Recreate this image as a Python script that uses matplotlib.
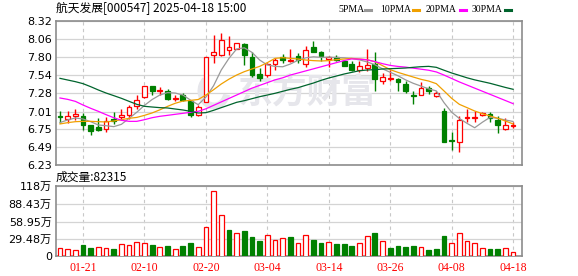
import numpy as np
import matplotlib
matplotlib.use("Agg")
import matplotlib.pyplot as plt
from matplotlib.lines import Line2D
from matplotlib.patches import Arc

W, H = 578, 276
CJK = ["Noto Sans CJK SC", "DejaVu Sans"]
C_UP, C_DN = "#FF0000", "#008000"
C_MA = {"5PMA": "#999999", "10PMA": "#F0A000", "20PMA": "#FF00FF", "30PMA": "#00642D"}
C_GRID, C_SPINE = "#d4d4d4", "#8c8c8c"

DATES = ["01-16", "01-17", "01-20", "01-21", "01-22", "01-23", "01-24", "01-27",
         "02-05", "02-06", "02-07", "02-10", "02-11", "02-12", "02-13", "02-14",
         "02-17", "02-18", "02-19", "02-20", "02-21", "02-24", "02-25", "02-26",
         "02-27", "02-28", "03-03", "03-04", "03-05", "03-06", "03-07", "03-10",
         "03-11", "03-12", "03-13", "03-14", "03-17", "03-18", "03-19", "03-20",
         "03-21", "03-24", "03-25", "03-26", "03-27", "03-28", "03-31", "04-01",
         "04-02", "04-03", "04-07", "04-08", "04-09", "04-10", "04-11", "04-14",
         "04-15", "04-16", "04-17", "04-18"]
OPEN = [6.945, 6.902, 6.946, 6.941, 6.810, 6.786, 6.757, 6.907, 6.927, 6.956,
        7.086, 7.217, 7.377, 7.304, 7.304, 7.198, 7.246, 7.159, 6.956, 7.144,
        7.827, 7.827, 7.909, 7.923, 7.991, 7.797, 7.556, 7.536, 7.701, 7.797,
        7.739, 7.812, 7.706, 7.947, 7.875, 7.773, 7.802, 7.749, 7.706, 7.609,
        7.643, 7.701, 7.449, 7.483, 7.488, 7.415, 7.256, 7.256, 7.352, 7.241,
        7.014, 6.598, 6.569, 6.912, 6.922, 6.956, 6.975, 6.883, 6.762, 6.796]
HIGH = [7.014, 7.014, 7.048, 6.990, 6.815, 6.917, 6.931, 6.999, 7.052, 7.101,
        7.246, 7.386, 7.386, 7.362, 7.338, 7.246, 7.275, 7.183, 7.101, 7.797,
        8.117, 8.151, 8.102, 8.006, 8.006, 7.880, 7.643, 7.715, 7.788, 7.846,
        7.918, 7.860, 7.967, 8.030, 7.894, 7.812, 7.836, 7.764, 7.739, 7.739,
        7.918, 7.875, 7.570, 7.609, 7.498, 7.449, 7.314, 7.435, 7.377, 7.304,
        7.062, 6.709, 6.941, 7.052, 7.023, 7.004, 6.999, 6.941, 6.917, 6.859]
LOW = [6.844, 6.844, 6.893, 6.748, 6.675, 6.733, 6.714, 6.830, 6.893, 6.902,
       7.052, 7.207, 7.256, 7.246, 7.183, 7.159, 7.169, 6.927, 6.941, 7.144,
       7.715, 7.812, 7.827, 7.923, 7.691, 7.507, 7.449, 7.512, 7.619, 7.715,
       7.725, 7.715, 7.652, 7.870, 7.749, 7.652, 7.739, 7.667, 7.594, 7.580,
       7.594, 7.314, 7.415, 7.449, 7.314, 7.280, 7.120, 7.256, 7.270, 7.227,
       6.564, 6.457, 6.419, 6.854, 6.854, 6.951, 6.854, 6.699, 6.748, 6.772]
CLOSE = [6.936, 6.941, 6.975, 6.820, 6.723, 6.748, 6.878, 6.870, 6.956, 7.072,
         7.173, 7.377, 7.314, 7.319, 7.193, 7.212, 7.183, 6.965, 7.072, 7.797,
         7.875, 8.044, 7.943, 8.006, 7.836, 7.546, 7.498, 7.706, 7.754, 7.754,
         7.754, 7.754, 7.899, 7.870, 7.812, 7.797, 7.764, 7.677, 7.619, 7.667,
         7.691, 7.483, 7.512, 7.498, 7.435, 7.314, 7.231, 7.352, 7.304, 7.280,
         6.564, 6.578, 6.883, 6.927, 6.936, 6.990, 6.917, 6.820, 6.810, 6.810]
MA5 = [6.850, 6.888, 6.917, 6.902, 6.863, 6.815, 6.805, 6.791, 6.825, 6.912,
       7.000, 7.100, 7.185, 7.250, 7.285, 7.279, 7.250, 7.176, 7.110, 7.220,
       7.385, 7.613, 7.782, 7.918, 7.935, 7.869, 7.758, 7.686, 7.666, 7.660,
       7.700, 7.755, 7.790, 7.805, 7.797, 7.800, 7.795, 7.790, 7.780, 7.760,
       7.730, 7.690, 7.630, 7.580, 7.530, 7.470, 7.420, 7.380, 7.340, 7.310,
       7.140, 7.000, 6.910, 6.839, 6.775, 6.855, 6.926, 6.912, 6.888, 6.866]
MA10 = [6.830, 6.849, 6.863, 6.868, 6.868, 6.863, 6.859, 6.873, 6.892, 6.912,
        6.925, 6.955, 6.990, 7.035, 7.085, 7.130, 7.162, 7.172, 7.185, 7.250,
        7.327, 7.410, 7.480, 7.540, 7.589, 7.628, 7.666, 7.720, 7.782, 7.792,
        7.782, 7.773, 7.758, 7.749, 7.744, 7.749, 7.763, 7.773, 7.782, 7.773,
        7.763, 7.734, 7.676, 7.618, 7.579, 7.545, 7.511, 7.478, 7.453, 7.415,
        7.310, 7.202, 7.115, 7.067, 7.018, 6.979, 6.946, 6.912, 6.873, 6.830]
MA20 = [7.207, 7.187, 7.158, 7.105, 7.057, 7.013, 6.965, 6.921, 6.883, 6.868,
        6.868, 6.892, 6.921, 6.941, 6.955, 6.970, 6.984, 6.999, 7.013, 7.050,
        7.100, 7.150, 7.200, 7.250, 7.300, 7.350, 7.390, 7.430, 7.470, 7.500,
        7.540, 7.570, 7.600, 7.630, 7.660, 7.690, 7.720, 7.750, 7.775, 7.770,
        7.760, 7.735, 7.705, 7.680, 7.665, 7.655, 7.640, 7.625, 7.610, 7.585,
        7.540, 7.490, 7.440, 7.395, 7.350, 7.305, 7.260, 7.215, 7.170, 7.125]
MA30 = [7.492, 7.468, 7.444, 7.415, 7.371, 7.323, 7.279, 7.241, 7.202, 7.158,
        7.115, 7.086, 7.076, 7.067, 7.062, 7.047, 7.033, 7.013, 6.989, 6.994,
        7.028, 7.067, 7.105, 7.144, 7.168, 7.197, 7.226, 7.250, 7.275, 7.304,
        7.333, 7.357, 7.391, 7.424, 7.463, 7.497, 7.526, 7.555, 7.579, 7.603,
        7.613, 7.618, 7.628, 7.632, 7.637, 7.642, 7.652, 7.661, 7.666, 7.652,
        7.610, 7.570, 7.535, 7.500, 7.470, 7.445, 7.420, 7.390, 7.360, 7.333]
# volume in units of 10^4 lots (万)
VOL = [14.5, 12.8, 11.1, 20.0, 15.0, 16.1, 14.5, 12.8, 21.1, 19.5,
       24.5, 22.8, 20.0, 16.1, 18.4, 12.8, 18.4, 23.4, 16.1, 49.5,
       109.6, 70.1, 45.0, 39.5, 43.4, 33.4, 26.7, 36.7, 28.4, 31.1,
       33.4, 22.8, 36.1, 28.4, 23.4, 24.5, 21.7, 21.7, 18.4, 22.8,
       34.5, 40.0, 26.1, 15.0, 18.4, 16.7, 18.4, 16.1, 11.7, 13.3,
       35.0, 22.8, 39.5, 26.1, 22.8, 14.5, 13.3, 13.3, 14.5, 8.2315]
VOL_UP = [1, 1, 1, 0, 0, 1, 1, 0, 1, 1, 1, 1, 0, 1, 0, 1, 0, 0, 1, 1,
          1, 1, 0, 1, 0, 0, 0, 1, 1, 1, 0, 1, 1, 0, 0, 1, 0, 0, 0, 1,
          1, 0, 1, 0, 0, 0, 0, 1, 0, 0, 0, 1, 1, 1, 1, 1, 0, 0, 1, 1]
PRICE_TICKS = [6.23, 6.49, 6.75, 7.01, 7.28, 7.54, 7.80, 8.06, 8.32]
VOL_TICKS = [2.5, 29.48, 58.95, 88.43, 118.4]
VOL_LABELS = ["0", "29.48万", "58.95万", "88.43万", "118万"]
TITLE = "航天发展[000547] 2025-04-18 15:00"
VOL_TITLE = "成交量:82315"

x = np.arange(len(DATES))
o, h, l, c = map(np.array, (OPEN, HIGH, LOW, CLOSE))
up = c >= o
date_idx = list(range(3, len(DATES), 8))

fig = plt.figure(figsize=(W / 100, H / 100), dpi=100)
ax1 = fig.add_axes([56 / W, 1 - 165.3 / H, 466 / W, 144 / H])
ax2 = fig.add_axes([56 / W, 1 - 255.5 / H, 466 / W, 69.5 / H])

for ax in (ax1, ax2):
    ax.set_xlim(-0.52, 60.16)
    for s in ax.spines.values():
        s.set_color(C_SPINE)
        s.set_linewidth(1.2)
    ax.tick_params(length=0, labelsize=8, pad=3)
    for i in date_idx:
        ax.axvline(i, color="#c8c8c8", lw=0.8, ls=(0, (3, 3)), zorder=0.5)
    ax.set_axisbelow(True)
    ax.grid(axis="y", color=C_GRID, lw=0.9)

# price panel
ax1.set_ylim(6.23, 8.32)
ax1.set_yticks(PRICE_TICKS)
ax1.set_yticklabels([f"{v:.2f}" for v in PRICE_TICKS])
ax1.set_xticks([])

# watermark
ax1.text(307 / W, 1 - 92 / H, "东方财富", transform=fig.transFigure, fontsize=25,
         family=CJK, weight="bold", color="#e6e6eb", ha="center", va="center", zorder=0.6)
ax1.add_patch(Arc((214 / W, 1 - 91 / H), 26 / W, 30 / H, theta1=110, theta2=330,
                  transform=fig.transFigure, color="#e6e6eb", lw=5, zorder=0.6))

ax1.vlines(x, l, h, colors=np.where(up, C_UP, C_DN), lw=1, zorder=2)
body = np.where(np.abs(c - o) < 0.006, 0.006, c - o)
ax1.bar(x, body, bottom=o, width=0.62, color=np.where(up, "white", C_DN),
        edgecolor=np.where(up, C_UP, C_DN), linewidth=0.9, zorder=3)

for name, vals in zip(C_MA, (MA5, MA10, MA20, MA30)):
    ax1.plot(x, vals, color=C_MA[name], lw=0.9, zorder=4)

# volume panel
vu = np.array(VOL_UP, dtype=bool)
ax2.bar(x, VOL, width=0.62, color=np.where(vu, "white", C_DN),
        edgecolor=np.where(vu, C_UP, C_DN), linewidth=0.9, zorder=3)
ax2.set_ylim(2.5, 118.4)
ax2.set_yticks(VOL_TICKS)
ax2.set_yticklabels(VOL_LABELS, family=["DejaVu Sans", "Noto Sans CJK SC"])
ax2.set_xticks(date_idx)
ax2.set_xticklabels([DATES[i] for i in date_idx], color=C_UP, family="Liberation Serif",
                    fontsize=8.5)
ax2.tick_params(axis="x", pad=5)

# titles
fig.text(56 / W, 1 - 8.5 / H, TITLE, family=CJK, fontsize=8.5, va="center", ha="left")
fig.text(56 / W, 1 - 177.5 / H, VOL_TITLE, family=CJK, fontsize=8.5, va="center", ha="left")

# MA legend
leg_x = [(338, 365), (380, 413), (425.5, 460), (471.5, 505)]
for (tx, dx), name in zip(leg_x, C_MA):
    fig.text(tx / W, 1 - 9 / H, name, family="Liberation Serif", fontsize=7,
             va="center", ha="left")
    fig.add_artist(Line2D([dx / W, (dx + 6) / W], [1 - 9.5 / H] * 2,
                          transform=fig.transFigure, color=C_MA[name], lw=2.2))

fig.savefig("out.png", dpi=100)
